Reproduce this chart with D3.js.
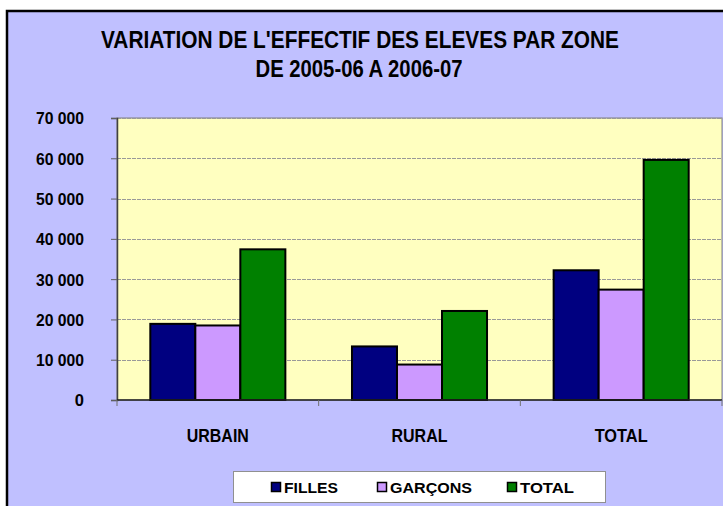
<!DOCTYPE html>
<html>
<head>
<meta charset="utf-8">
<script src="https://cdn.jsdelivr.net/npm/d3@7"></script>
<style>
  html, body { margin: 0; padding: 0; background: #ffffff; }
  svg { display: block; }
  text { font-family: "Liberation Sans", Arial, sans-serif; font-weight: bold; fill: #000; }
</style>
</head>
<body>
<svg id="chart" width="723" height="506"></svg>
<script>
// ---- data ----
const categories = ["URBAIN", "RURAL", "TOTAL"];
const seriesNames = ["FILLES", "GARÇONS", "TOTAL"];
const filles  = [18900, 13300, 32200];
const garcons = [18500, 8800, 27400];
const totals  = [37400, 22100, 59600];
const yTicks = [0, 10000, 20000, 30000, 40000, 50000, 60000, 70000];
const yTickLabels = ["0", "10 000", "20 000", "30 000", "40 000", "50 000", "60 000", "70 000"];
const titleLines = ["VARIATION DE L'EFFECTIF DES ELEVES PAR ZONE", "DE 2005-06 A 2006-07"];
const colors = ["#000080", "#CC99FF", "#008000"];

const seriesValues = [filles, garcons, totals];

const svg = d3.select("#chart");

// chart area frame
svg.append("rect")
  .attr("x", 7).attr("y", 11).attr("width", 740).attr("height", 520)
  .attr("fill", "#C0C0FF").attr("stroke", "#000").attr("stroke-width", 2.5);

// title
const titleG = svg.append("g");
titleG.append("text").attr("x", 360).attr("y", 48).attr("text-anchor", "middle")
  .attr("font-size", 23).attr("textLength", 518).attr("lengthAdjust", "spacingAndGlyphs")
  .text(titleLines[0]);
titleG.append("text").attr("x", 359).attr("y", 77).attr("text-anchor", "middle")
  .attr("font-size", 23).attr("textLength", 207).attr("lengthAdjust", "spacingAndGlyphs")
  .text(titleLines[1]);

// scales
const plotL = 117, plotR = 722, plotT = 118, plotB = 400;
const x0 = d3.scaleBand().domain(categories).range([plotL, plotR]).paddingInner(0).paddingOuter(0);
const x1 = d3.scaleBand().domain(seriesNames).range([0, x0.bandwidth()]).paddingInner(0).paddingOuter(0.74);
const y = d3.scaleLinear().domain([0, 70000]).range([plotB, plotT]);

// plot area
svg.append("rect")
  .attr("x", plotL).attr("y", plotT).attr("width", plotR - plotL).attr("height", plotB - plotT)
  .attr("fill", "#FFFFC0").attr("stroke", "#808080").attr("stroke-width", 1);

// gridlines
svg.append("g").selectAll("line").data(yTicks.filter(d => d > 0)).join("line")
  .attr("x1", plotL).attr("x2", plotR)
  .attr("y1", d => Math.round(y(d)) + 0.5).attr("y2", d => Math.round(y(d)) + 0.5)
  .attr("stroke", "#999999").attr("stroke-width", 1).attr("stroke-dasharray", "4,1");

// y axis
const yAxis = d3.axisLeft(y).tickValues(yTicks)
  .tickFormat((d, i) => yTickLabels[i]).tickSize(6).tickPadding(27);
const yG = svg.append("g").attr("transform", `translate(${plotL},0)`).call(yAxis);
yG.select(".domain").attr("stroke", "#404040").attr("stroke-width", 1.5);
yG.selectAll(".tick line").attr("stroke", "#606060");
yG.selectAll(".tick text").attr("font-size", 16.5).attr("font-family", "Liberation Sans, Arial, sans-serif")
  .attr("font-weight", "bold").attr("fill", "#000").attr("dy", "0.36em")
  .attr("textLength", (d, i) => yTickLabels[i].length > 1 ? 48 : null)
  .attr("lengthAdjust", "spacingAndGlyphs");

// bars
const groups = svg.append("g").selectAll("g").data(categories).join("g")
  .attr("transform", d => `translate(${x0(d)},0)`);
groups.selectAll("rect")
  .data((c, ci) => seriesNames.map((s, si) => ({ s, si, v: seriesValues[si][ci] })))
  .join("rect")
  .attr("x", d => x1(d.s))
  .attr("y", d => y(d.v))
  .attr("width", x1.bandwidth())
  .attr("height", d => y(0) - y(d.v))
  .attr("fill", d => colors[d.si])
  .attr("stroke", "#000").attr("stroke-width", 2);

// x axis line
svg.append("line").attr("x1", plotL).attr("x2", plotR).attr("y1", plotB).attr("y2", plotB)
  .attr("stroke", "#202020").attr("stroke-width", 1.5);
// category boundary ticks
const bounds = categories.map(c => x0(c)).concat([x0(categories[categories.length - 1]) + x0.bandwidth()]);
svg.append("g").selectAll("line").data(bounds).join("line")
  .attr("x1", d => d).attr("x2", d => d).attr("y1", plotB).attr("y2", plotB + 6)
  .attr("stroke", "#707070").attr("stroke-width", 1);
// category labels
svg.append("g").selectAll("text").data(categories).join("text")
  .attr("x", d => x0(d) + x0.bandwidth() / 2).attr("y", 442)
  .attr("text-anchor", "middle").attr("font-size", 19)
  .attr("textLength", d => d === "URBAIN" ? 62 : (d === "RURAL" ? 56 : 53))
  .attr("lengthAdjust", "spacingAndGlyphs")
  .text(d => d);

// legend
svg.append("rect").attr("x", 233.5).attr("y", 471.5).attr("width", 372).attr("height", 31)
  .attr("fill", "#ffffff").attr("stroke", "#909090").attr("stroke-width", 1);
const legendX = [271, 377, 507];
const legendTextLen = [54, 82, 54];
const lg = svg.append("g").selectAll("g").data(seriesNames).join("g")
  .attr("transform", (d, i) => `translate(${legendX[i]},0)`);
lg.append("rect").attr("x", 0.5).attr("y", 482.5).attr("width", 9).attr("height", 9)
  .attr("fill", (d, i) => colors[i]).attr("stroke", "#000").attr("stroke-width", 1.5);
lg.append("text").attr("x", 13).attr("y", 492.5).attr("font-size", 15)
  .attr("textLength", (d, i) => legendTextLen[i]).attr("lengthAdjust", "spacingAndGlyphs")
  .text(d => d);
</script>
</body>
</html>
